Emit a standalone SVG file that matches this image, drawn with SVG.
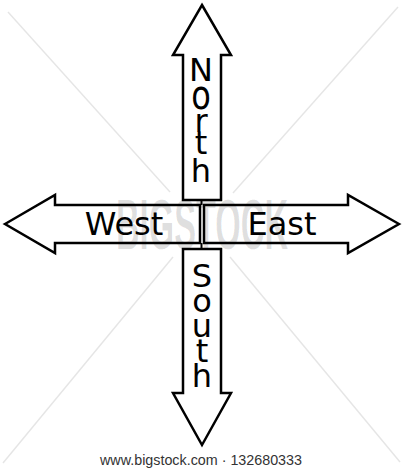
<svg xmlns="http://www.w3.org/2000/svg" width="404" height="470" viewBox="0 0 404 470">
  <style>
    .arrow { fill: #ffffff; stroke: #000000; stroke-width: 2.5; stroke-linejoin: miter; }
    .lbl { font-family: "DejaVu Sans", sans-serif; font-size: 32px; fill: #000000; text-anchor: middle; }
    .tick { stroke: #000000; stroke-width: 2; fill: none; }
    .wm-line { stroke: #000000; stroke-opacity: 0.1; stroke-width: 1.5; }
    .wm-text { font-family: "Liberation Sans", sans-serif; font-weight: bold; font-size: 70px; fill: #000000; fill-opacity: 0.13; }
    .credit { font-family: "Liberation Sans", Arial, sans-serif; font-size: 14.3px; fill: #333333; }
  </style>
  <rect x="0" y="0" width="404" height="470" fill="#ffffff"/>

  <g id="watermark-lines">
    <line class="wm-line" x1="8" y1="12" x2="170" y2="192"/>
    <line class="wm-line" x1="398" y1="7" x2="233" y2="193"/>
    <line class="wm-line" x1="173" y1="257" x2="3" y2="463"/>
    <line class="wm-line" x1="230" y1="257" x2="400" y2="462"/>
  </g>

  <g id="north">
    <polygon class="arrow" points="202,5 231,55 221,55 221,200 183,200 183,55 173,55"/>
    <text class="lbl" x="201" y="81">N</text>
    <text class="lbl" transform="translate(201,109) scale(1,1.28)" x="0" y="0">o</text>
    <text class="lbl" x="201" y="132">r</text>
    <text class="lbl" x="201" y="154">t</text>
    <text class="lbl" x="201" y="182">h</text>
  </g>

  <g id="west">
    <polygon class="arrow" points="5,224 55,195 55,205 200,205 200,243 55,243 55,253"/>
    <text class="lbl" x="124" y="235">West</text>
  </g>

  <g id="east">
    <polygon class="arrow" points="399,224 348,195 348,205 204,205 204,243 348,243 348,253"/>
    <text class="lbl" x="282" y="235">East</text>
  </g>

  <g id="south">
    <polygon class="arrow" points="202,445 231,393 221,393 221,249 183,249 183,393 173,393"/>
    <text class="lbl" x="202" y="287">S</text>
    <text class="lbl" x="202" y="312">o</text>
    <text class="lbl" x="202" y="337">u</text>
    <text class="lbl" x="202" y="362">t</text>
    <text class="lbl" x="202" y="387">h</text>
  </g>

  <g id="connectors">
    <line class="tick" x1="201.5" y1="200" x2="201.5" y2="205"/>
    <line class="tick" x1="201.5" y1="243" x2="201.5" y2="249"/>
  </g>

  <g id="watermark">
    <text class="wm-text" x="116" y="249" textLength="172" lengthAdjust="spacingAndGlyphs">BIGSTOCK</text>
  </g>

  <g id="credit">
    <text class="credit" x="100" y="465" textLength="202" lengthAdjust="spacingAndGlyphs">www.bigstock.com · 132680333</text>
  </g>
</svg>
